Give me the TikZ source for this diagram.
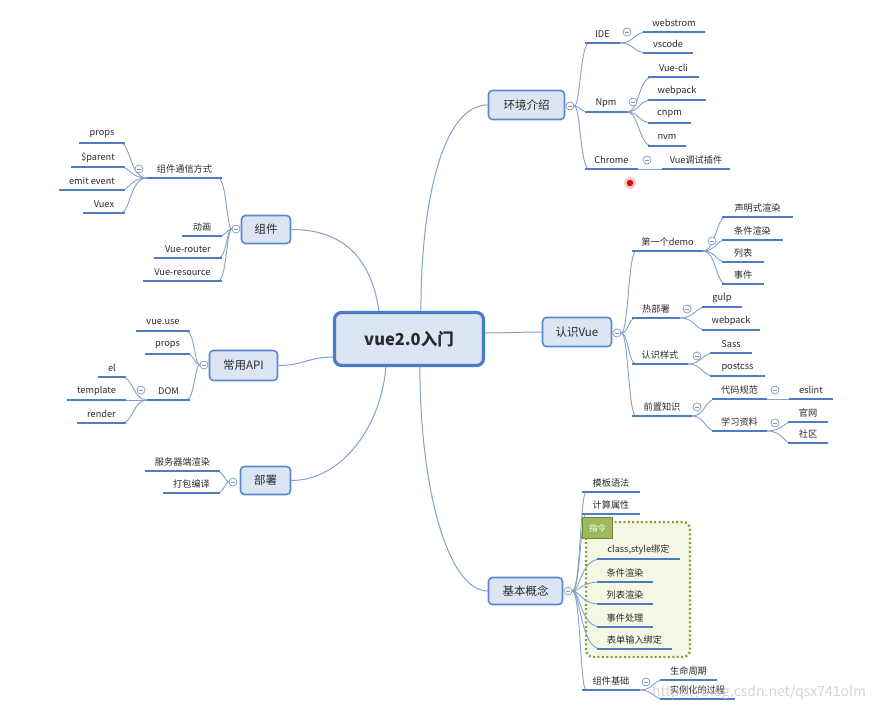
\documentclass[tikz,border=0pt]{standalone}
\usepackage{fontspec}
\setmainfont{Noto Sans CJK SC}
\usetikzlibrary{calc}
\definecolor{linec}{HTML}{86A0C8}
\definecolor{ulc}{HTML}{4F7EC0}
\definecolor{boxf}{HTML}{DCE5F3}
\definecolor{boxb}{HTML}{5A88CC}
\definecolor{ctrb}{HTML}{4A7BC8}
\definecolor{txt}{HTML}{2A2A2A}
\definecolor{togc}{HTML}{7D97BE}
\definecolor{grpb}{HTML}{8A9B3E}
\definecolor{grpf}{HTML}{F3F7E3}
\definecolor{tagf}{HTML}{9CB95C}
\definecolor{tagb}{HTML}{6D8B31}
\pgfdeclarelayer{grp}\pgfdeclarelayer{back}\pgfsetlayers{grp,back,main}
\tikzset{
  conn/.style={draw=linec, line width=0.9pt},
  mconn/.style={draw=linec, line width=1pt},
  uline/.style={draw=ulc, line width=2.2pt},
  lbl/.style={font=\fontsize{9.2}{10}\selectfont, text=txt, inner sep=0pt},
  mainbox/.style={draw=boxb, fill=boxf, line width=1.6pt, rounded corners=4pt, font=\fontsize{11.5}{12}\selectfont, text=txt, inner sep=0pt},
  ctrbox/.style={draw=ctrb, fill=boxf, line width=3.2pt, rounded corners=7pt, font=\bfseries\fontsize{16.5}{17}\selectfont, text=txt, inner sep=0pt},
  tog/.style={circle, draw=togc, fill=white, line width=0.7pt, minimum size=8pt, inner sep=0pt,
    path picture={\draw[togc, line width=0.7pt] ($(path picture bounding box.center)+(-2.2,0)$) -- ($(path picture bounding box.center)+(2.2,0)$);}},
}
\newcommand\leaf[5]{\coordinate (#1S) at (#2,#4); \coordinate (#1E) at (#3,#4);
  \draw[uline] (#1S) -- (#1E); \node[lbl] (#1) at ({(#2+#3)/2},#4-9) {#5};}
\newcommand\cR[3][9]{\begin{pgfonlayer}{back}\draw[conn] (#2) .. controls ($(#2)+(#1,0)$) and ($(#2|-#3)+(#1,0)$) .. ($(#3)+(4,0)$);\end{pgfonlayer}}
\newcommand\cL[3][9]{\begin{pgfonlayer}{back}\draw[conn] (#2) .. controls ($(#2)+(-#1,0)$) and ($(#2|-#3)+(-#1,0)$) .. ($(#3)+(-4,0)$);\end{pgfonlayer}}
\newcommand\cS[2]{\begin{pgfonlayer}{back}\draw[conn] (#1) -- (#2);\end{pgfonlayer}}
\begin{document}
\begin{tikzpicture}[x=1pt,y=-1pt]
\begin{pgfonlayer}{grp}
\fill[white] (0,0) rectangle (882,711);
\end{pgfonlayer}
\useasboundingbox (0,0) rectangle (882,711);

% ---- main boxes ----
\node[ctrbox, minimum width=149pt, minimum height=53pt] (ctr) at (409,339) {vue2.0入门};
\node[mainbox, minimum width=76pt, minimum height=29pt] (env) at (526.5,105) {环境介绍};
\node[mainbox, minimum width=69pt, minimum height=29pt] (renshi) at (577,332) {认识Vue};
\node[mainbox, minimum width=74pt, minimum height=27pt] (jiben) at (525.5,591) {基本概念};
\node[mainbox, minimum width=49pt, minimum height=28pt] (zujian) at (266,229.5) {组件};
\node[mainbox, minimum width=68pt, minimum height=30pt] (api) at (243.5,365.5) {常用API};
\node[mainbox, minimum width=50pt, minimum height=28pt] (bushu) at (265.5,480.5) {部署};

% ---- main connectors ----
\begin{pgfonlayer}{back}
\draw[mconn] ($(ctr.north west)+(88,0)$) .. controls ($(ctr.north west)+(88,-110)$) and ($(env.west)+(-45,0)$) .. (env.west);
\draw[mconn] ($(ctr.north west)+(46,0)$) .. controls ($(ctr.north west)+(38,-55)$) and ($(zujian.east)+(50,0)$) .. (zujian.east);
\draw[mconn] ($(ctr.south west)+(0,-10)$) .. controls ($(ctr.south west)+(-25,-10)$) and ($(api.east)+(25,0)$) .. (api.east);
\draw[mconn] ($(ctr.south west)+(53,0)$) .. controls ($(ctr.south west)+(48,60)$) and ($(bushu.east)+(50,0)$) .. (bushu.east);
\draw[mconn] ($(ctr.south west)+(87,0)$) .. controls ($(ctr.south west)+(87,120)$) and ($(jiben.west)+(-40,0)$) .. (jiben.west);
\draw[mconn] ($(ctr.east)+(0,-6)$) .. controls ($(ctr.east)+(25,-6)$) and ($(renshi.west)+(-25,0)$) .. (renshi.west);
\end{pgfonlayer}

% ---- group box for 指令 ----
\begin{pgfonlayer}{grp}
\draw[grpb, fill=grpf, line width=2.2pt, dash pattern=on 2pt off 2.4pt, rounded corners=7pt] (586,522) rectangle (690,657);
\end{pgfonlayer}
\node[draw=tagb, fill=tagf, line width=1.6pt, minimum width=30pt, minimum height=21pt, inner sep=0pt, text=white, font=\fontsize{8.5}{9}\selectfont] (tag) at (597.5,528) {指令};

% ---- 环境介绍 ----
\node[tog] (envT) at (570,106) {};
\leaf{ide}{585}{620}{43}{IDE}
\leaf{npm}{585}{627}{112}{Npm}
\leaf{chrome}{585}{638}{169}{Chrome}
\leaf{webstrom}{643}{705}{32}{webstrom}
\leaf{vscode}{643}{693}{53}{vscode}
\leaf{vuecli}{648}{699}{77}{Vue-cli}
\leaf{webpackA}{648}{706}{100}{webpack}
\leaf{cnpm}{648}{691}{123}{cnpm}
\leaf{nvm}{648}{686}{146}{nvm}
\leaf{vuetool}{662}{730}{169}{Vue调试插件}
\node[tog] (ideT) at (627,32) {};
\node[tog] (npmT) at (633,102) {};
\node[tog] (chromeT) at (647,160) {};
\cR[6]{envT.east}{ideS}\cR[6]{envT.east}{npmS}\cR[6]{envT.east}{chromeS}
\cR[14]{ideE}{webstromS}\cR[14]{ideE}{vscodeS}
\cR[12]{npmE}{vuecliS}\cR[12]{npmE}{webpackAS}\cR[12]{npmE}{cnpmS}\cR[12]{npmE}{nvmS}
\cS{chromeE}{vuetoolS}

% ---- 认识Vue ----
\node[tog] (renshiT) at (617,333) {};
\leaf{demo}{632}{703}{251}{第一个demo}
\leaf{hot}{632}{680}{318}{热部署}
\leaf{style}{632}{688}{364}{认识样式}
\leaf{pre}{632}{692}{416}{前置知识}
\leaf{decl}{722}{793}{217}{声明式渲染}
\leaf{cond}{722}{783}{240}{条件渲染}
\leaf{list}{722}{764}{262}{列表}
\leaf{event}{722}{764}{284}{事件}
\leaf{gulp}{702}{742}{307}{gulp}
\leaf{webpackB}{702}{760}{330}{webpack}
\leaf{sass}{710}{752}{353}{Sass}
\leaf{postcss}{710}{765}{376}{postcss}
\leaf{lint}{712}{767}{399}{代码规范}
\leaf{learn}{712}{767}{431}{学习资料}
\leaf{eslint}{789}{833}{399}{eslint}
\leaf{site}{788}{828}{422}{官网}
\leaf{comm}{788}{828}{443}{社区}
\node[tog] (demoT) at (712,241) {};
\node[tog] (hotT) at (687,309) {};
\node[tog] (styleT) at (697,356) {};
\node[tog] (preT) at (697,407) {};
\node[tog] (lintT) at (775,390) {};
\node[tog] (learnT) at (775,423) {};
\cR[7]{renshiT.east}{demoS}\cR[7]{renshiT.east}{hotS}\cR[7]{renshiT.east}{styleS}\cR[7]{renshiT.east}{preS}
\cR[13]{demoE}{declS}\cR[13]{demoE}{condS}\cR[13]{demoE}{listS}\cR[13]{demoE}{eventS}
\cR[15]{hotE}{gulpS}\cR[15]{hotE}{webpackBS}
\cR[14]{styleE}{sassS}\cR[14]{styleE}{postcssS}
\cR[13]{preE}{lintS}\cR[13]{preE}{learnS}
\cS{lintE}{eslintS}
\cR[16]{learnE}{siteS}\cR[16]{learnE}{commS}

% ---- 基本概念 ----
\node[tog] (jibenT) at (568,591) {};
\leaf{tpl}{582}{640}{492}{模板语法}
\leaf{comp}{582}{640}{514}{计算属性}
\leaf{cls}{597}{680}{559}{class,style绑定}
\leaf{condB}{597}{653}{582}{条件渲染}
\leaf{listB}{597}{653}{604}{列表渲染}
\leaf{evt}{597}{653}{627}{事件处理}
\leaf{form}{597}{672}{649}{表单输入绑定}
\leaf{base}{582}{640}{690}{组件基础}
\leaf{life}{660}{717}{680}{生命周期}
\leaf{inst}{660}{735}{699}{实例化的过程}
\node[tog] (baseT) at (646,682) {};
\cR[8]{jibenT.east}{tplS}\cR[8]{jibenT.east}{compS}\cR[8]{jibenT.east}{clsS}\cR[8]{jibenT.east}{condBS}
\cR[8]{jibenT.east}{listBS}\cR[8]{jibenT.east}{evtS}\cR[8]{jibenT.east}{formS}\cR[8]{jibenT.east}{baseS}
\cR[13]{baseE}{lifeS}\cR[13]{baseE}{instS}

% ---- 组件 ----
\node[tog] (zujianT) at (236,229) {};
\leaf{talk}{147}{222}{178}{组件通信方式}
\leaf{anim}{182}{222}{236}{动画}
\leaf{router}{154}{222}{258}{Vue-router}
\leaf{resource}{143}{222}{281}{Vue-resource}
\leaf{props}{79}{125}{143}{props}
\leaf{parent}{71}{125}{167}{\$parent}
\leaf{emit}{59}{125}{190}{emit event}
\leaf{vuex}{83}{125}{213}{Vuex}
\node[tog] (talkT) at (139,169) {};
\cL[5]{zujianT.west}{talkE}\cL[5]{zujianT.west}{animE}\cL[5]{zujianT.west}{routerE}\cL[5]{zujianT.west}{resourceE}
\cL[17]{talkS}{propsE}\cL[17]{talkS}{parentE}\cL[17]{talkS}{emitE}\cL[17]{talkS}{vuexE}

% ---- 常用API ----
\node[tog] (apiT) at (204,365) {};
\leaf{use}{136}{190}{331}{vue.use}
\leaf{propsB}{145}{190}{354}{props}
\leaf{dom}{147}{190}{400}{DOM}
\leaf{el}{98}{126}{377}{el}
\leaf{tmpl}{67}{126}{400}{template}
\leaf{render}{77}{126}{423}{render}
\node[tog] (domT) at (141,390) {};
\cL[5]{apiT.west}{useE}\cL[5]{apiT.west}{propsBE}\cL[5]{apiT.west}{domE}
\cL[14]{domS}{elE}\cS{domS}{tmplE}\cL[14]{domS}{renderE}

% ---- 部署 ----
\node[tog] (bushuT) at (233,482) {};
\leaf{ssr}{145}{220}{471}{服务器端渲染}
\leaf{pack}{163}{220}{493}{打包编译}
\cL[4]{bushuT.west}{ssrE}\cL[4]{bushuT.west}{packE}

% ---- cursor dot and watermark ----
\fill[red!60!white, opacity=0.35] (630,183) circle (6);
\fill[red!85!black] (630,183) circle (3.2);
\node[anchor=west, inner sep=0pt, text=gray!55, opacity=0.6, font=\fontsize{14}{14}\selectfont] (wm) at (652,693) {https://blog.csdn.net/qsx741olm};
\end{tikzpicture}
\end{document}
